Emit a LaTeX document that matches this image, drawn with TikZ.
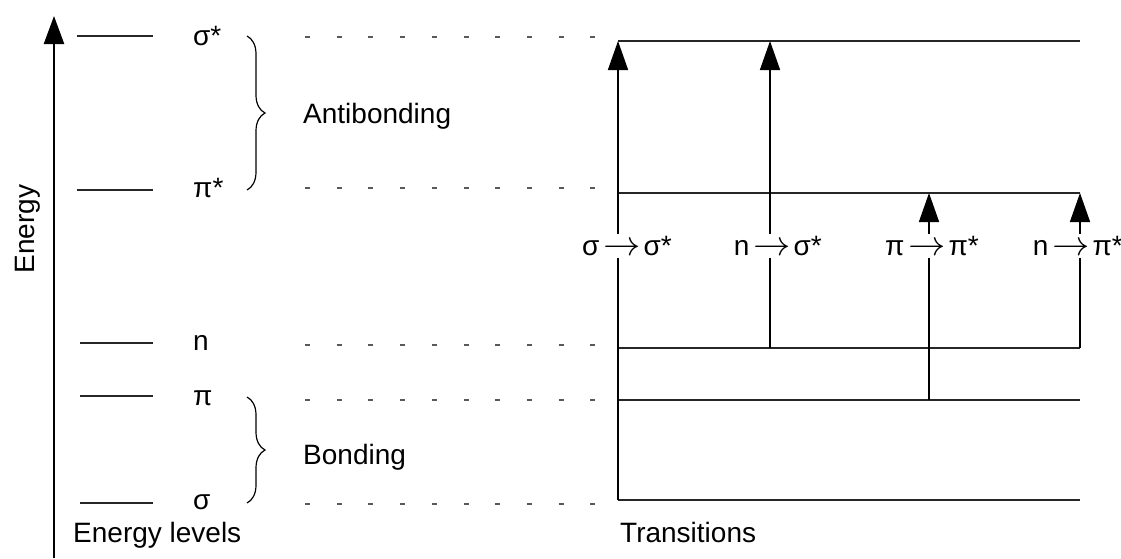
\documentclass[tikz,border=0pt]{standalone}
\usepackage{fontspec}
\setmainfont{Liberation Sans}
\usetikzlibrary{arrows.meta,decorations.pathreplacing}
\newcommand{\tarr}{\scalebox{1.5}[1.4]{$\rightarrow$}}
\newcommand{\trlab}[2]{\makebox[0pt][r]{#1\hspace{4pt}}\tarr\makebox[0pt][l]{\hspace{3pt}#2}}
\begin{document}
\begin{tikzpicture}[x=1pt,y=-1pt,
  lvl/.style={line width=1.6pt, black!85},
  dsh/.style={line width=1.3pt, black!65, dash pattern=on 5pt off 26.7pt},
  tr/.style={line width=1.6pt, -{Triangle[length=29pt,width=20pt]}},
  trl/.style={line width=1.6pt},
  brc/.style={decorate, decoration={brace, amplitude=18pt}, line width=1.2pt},
  txt/.style={font=\fontsize{28}{33}\selectfont, inner sep=0pt},
  lab/.style={txt, anchor=base, text height=21pt, text depth=3pt}
]
\useasboundingbox (0,0) rectangle (1121,558);

% energy axis
\coordinate (ax0) at (54,558);
\coordinate (ax1) at (54,16);
\draw[line width=2.4pt, -{Triangle[length=28pt,width=20pt]}] (ax0) -- (ax1);
\node[txt, rotate=90] (en) at (28,229) {Energy};

% left energy levels
\foreach \nm/\y/\xs in {ss/36/77, ps/190/77, n/343/80, p/396/80, s/503/80}{
  \coordinate (L\nm a) at (\xs,\y);
  \coordinate (L\nm b) at (153,\y);
  \draw[lvl] (L\nm a) -- (L\nm b);
}
\node[txt, anchor=base west] (tss) at (193,45) {σ*};
\node[txt, anchor=base west] (tps) at (193,197) {π*};
\node[txt, anchor=base west] (tn)  at (193,350) {n};
\node[txt, anchor=base west] (tp)  at (193,405) {π};
\node[txt, anchor=base west] (ts)  at (193,509) {σ};

% braces
\coordinate (b1a) at (247,36);  \coordinate (b1b) at (247,190);
\coordinate (b2a) at (247,397); \coordinate (b2b) at (247,503);
\draw[brc] (b1a) -- (b1b);
\draw[brc] (b2a) -- (b2b);
\node[txt, anchor=base west] (anti) at (303,123) {Antibonding};
\node[txt, anchor=base west] (bond) at (303,464) {Bonding};

% dashed guide lines
\foreach \nm/\y in {ss/37, ps/188, n/345, p/400, s/504}{
  \coordinate (D\nm a) at (305,\y);
  \coordinate (D\nm b) at (595,\y);
  \draw[dsh] (D\nm a) -- (D\nm b);
}

% right levels
\foreach \nm/\y in {ss/41, ps/193, n/348, p/400, s/500}{
  \coordinate (R\nm a) at (618,\y);
  \coordinate (R\nm b) at (1080,\y);
  \draw[lvl] (R\nm a) -- (R\nm b);
}

% transitions
\coordinate (t1lo) at (618,500);  \coordinate (t1hi) at (618,41);
\coordinate (t2lo) at (770,348);  \coordinate (t2hi) at (770,41);
\coordinate (t3lo) at (929,400);  \coordinate (t3hi) at (929,193);
\coordinate (t4lo) at (1080,348); \coordinate (t4hi) at (1080,193);

\node[lab] (l1) at (622,255) {\trlab{σ}{σ*}};
\node[lab] (l2) at (772,255) {\trlab{n}{σ*}};
\node[lab] (l3) at (927,255) {\trlab{π}{π*}};
\node[lab] (l4) at (1071,255) {\trlab{n}{π*}};

\draw[trl] (t1lo) -- (t1lo |- l1.south);  \draw[tr] (t1hi |- l1.north) -- (t1hi);
\draw[trl] (t2lo) -- (t2lo |- l2.south);  \draw[tr] (t2hi |- l2.north) -- (t2hi);
\draw[trl] (t3lo) -- (t3lo |- l3.south);  \draw[tr] (t3hi |- l3.north) -- (t3hi);
\draw[trl] (t4lo) -- (t4lo |- l4.south);  \draw[tr] (t4hi |- l4.north) -- (t4hi);

\node[txt, anchor=base west] (el) at (73,542) {Energy levels};
\node[txt, anchor=base west] (trn) at (620,542) {Transitions};
\end{tikzpicture}
\end{document}
